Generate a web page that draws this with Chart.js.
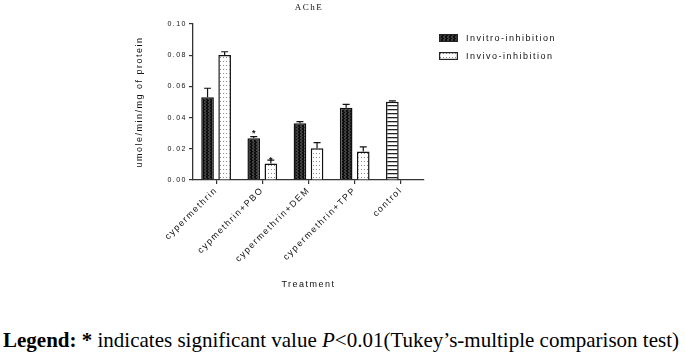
<!DOCTYPE html>
<html>
<head>
<meta charset="utf-8">
<script src="https://cdn.jsdelivr.net/npm/chart.js@4.4.1/dist/chart.umd.min.js"></script>
<style>
  html, body { margin: 0; padding: 0; background: #fff; }
  body { width: 685px; height: 352px; position: relative; overflow: hidden; }
  #chart { position: absolute; left: 0; top: 0; }
  #title { position: absolute; left: 259px; width: 100px; top: 2px; text-align: center;
           font: 9px "Liberation Serif", serif; letter-spacing: 1.5px; color: #111; }
  #legend { position: absolute; left: 439px; top: 29px; font: 9px "Liberation Sans", Arial, sans-serif;
            letter-spacing: 1.5px; color: #111; }
  #legend div { height: 18px; display: flex; align-items: center; }
  #legend canvas { margin-right: 8px; }
  #caption { position: absolute; left: 3px; top: 327.5px; white-space: nowrap; line-height: 1;
             font: 21px "Liberation Serif", "Times New Roman", serif; color: #000; }
</style>
</head>
<body>
<canvas id="chart" width="685" height="300"></canvas>
<div id="title">AChE</div>
<div id="legend"></div>
<div id="caption"><b>Legend:</b> <b>*</b> indicates significant value <i>P</i>&lt;0.01(Tukey’s-multiple comparison test)</div>
<script>
const categorias = ['cypermethrin', 'cypmethrin+PBO', 'cypermethrin+DEM', 'cypermethrin+TPP', 'control'];
const invitro = [0.053, 0.0267, 0.0363, 0.0463, 0.0502];
const invitroErro = [0.0588, 0.0278, 0.0374, 0.0485, 0.0507];
const invivo = [0.0801, 0.0105, 0.0203, 0.0182, null];
const invivoErro = [0.0822, 0.0128, 0.0239, 0.0212, null];
const invitroEstrela = [false, true, false, false, false];
const invivoEstrela = [false, true, false, false, false];
const yTicks = [0, 0.02, 0.04, 0.06, 0.08, 0.10];

function padrao(tipo) {
    const c = document.createElement('canvas');
    const g = c.getContext('2d');
    if (tipo === 'invitro') {
        c.width = 4; c.height = 3;
        g.fillStyle = '#0d0d0d';
        g.fillRect(0, 0, 4, 3);
        g.strokeStyle = '#808080';
        g.lineWidth = 0.9;
        g.beginPath();
        g.moveTo(0.5, 0); g.lineTo(2, 1.5); g.lineTo(0.5, 3);
        g.stroke();
    } else if (tipo === 'invivo') {
        c.width = 3; c.height = 4;
        g.fillStyle = '#fff';
        g.fillRect(0, 0, 3, 4);
        g.fillStyle = '#8a8a8a';
        g.fillRect(1, 1, 1, 1);
    } else {
        c.width = 4; c.height = 4;
        g.fillStyle = '#fff';
        g.fillRect(0, 0, 4, 4);
        g.fillStyle = '#222';
        g.fillRect(0, 1, 4, 1.3);
    }
    return g.createPattern(c, 'repeat');
}

const pInvitro = padrao('invitro');
const pInvivo = padrao('invivo');
const pControle = padrao('control');

const erros = [invitroErro, invivoErro];
const estrelas = [invitroEstrela, invivoEstrela];

const espacamento = {
    id: 'espacamento',
    beforeUpdate(chart) { chart.ctx.letterSpacing = '1.5px'; },
    beforeDraw(chart) { chart.ctx.letterSpacing = '1.5px'; }
};

const barrasErro = {
    id: 'barrasErro',
    afterDatasetsDraw(chart) {
        const ctx = chart.ctx;
        const y = chart.scales.y;
        ctx.save();
        ctx.strokeStyle = '#111';
        ctx.lineWidth = 1.2;
        chart.data.datasets.forEach((ds, d) => {
            const meta = chart.getDatasetMeta(d);
            meta.data.forEach((bar, i) => {
                const topo = erros[d][i];
                if (topo == null) return;
                const yt = y.getPixelForValue(topo);
                ctx.beginPath();
                ctx.moveTo(bar.x, bar.y);
                ctx.lineTo(bar.x, yt);
                ctx.moveTo(bar.x - 3.5, yt);
                ctx.lineTo(bar.x + 3.5, yt);
                ctx.stroke();
                if (estrelas[d][i]) {
                    ctx.fillStyle = '#111';
                    ctx.font = 'bold 9px "Liberation Sans", Arial';
                    ctx.textAlign = 'center';
                    ctx.textBaseline = 'middle';
                    ctx.letterSpacing = '0px';
                    ctx.fillText('*', bar.x, yt - (d === 0 ? 3 : 0));
                    ctx.letterSpacing = '1.5px';
                }
            });
        });
        ctx.restore();
    }
};

const fonte = { family: '"Liberation Sans", Arial, sans-serif', size: 9 };

new Chart(document.getElementById('chart'), {
    type: 'bar',
    data: {
        labels: categorias,
        datasets: [
            {
                label: 'Invitro-inhibition',
                data: invitro,
                backgroundColor: categorias.map((c, i) => i === categorias.length - 1 ? pControle : pInvitro),
                borderColor: '#111',
                borderWidth: 1.5,
                borderSkipped: 'bottom',
                categoryPercentage: 0.74,
                barPercentage: 0.74
            },
            {
                label: 'Invivo-inhibition',
                data: invivo,
                backgroundColor: pInvivo,
                borderColor: '#111',
                borderWidth: 1.5,
                borderSkipped: 'bottom',
                categoryPercentage: 0.74,
                barPercentage: 0.74
            }
        ]
    },
    options: {
        responsive: false,
        animation: false,
        events: [],
        layout: { padding: { left: 130, top: 24, right: 261, bottom: 6 } },
        plugins: {
            legend: { display: false },
            title: { display: false },
            tooltip: { enabled: false }
        },
        scales: {
            y: {
                min: 0,
                max: 0.1,
                afterBuildTicks: (s) => { s.ticks = yTicks.map(v => ({ value: v })); },
                afterFit: (s) => { s.width = 63; },
                ticks: {
                    color: '#111',
                    font: { family: fonte.family, size: 7 },
                    padding: 2,
                    callback: (v) => v.toFixed(2)
                },
                grid: { drawOnChartArea: false, drawTicks: true, tickLength: 4, color: '#333', lineWidth: 1.2 },
                border: { display: true, color: '#333', width: 1.3 },
                title: {
                    display: true,
                    text: 'umole/min/mg of protein',
                    color: '#111',
                    font: fonte,
                    padding: { top: 4, bottom: 0 }
                }
            },
            x: {
                afterFit: (s) => { s.height = 114; },
                ticks: {
                    color: '#111',
                    font: fonte,
                    maxRotation: 45,
                    minRotation: 45,
                    padding: 1,
                    autoSkip: false
                },
                grid: { drawOnChartArea: false, drawTicks: true, tickLength: 4, offset: false, color: '#333', lineWidth: 1.2 },
                border: { display: true, color: '#333', width: 1.3 },
                title: {
                    display: true,
                    text: 'Treatment',
                    color: '#111',
                    font: fonte,
                    padding: { top: 4, bottom: 4 }
                }
            }
        }
    },
    plugins: [espacamento, barrasErro]
});

// legenda em html com as mesmas texturas
const legenda = document.getElementById('legend');
[['Invitro-inhibition', pInvitro], ['Invivo-inhibition', pInvivo]].forEach(([txt, p]) => {
    const linha = document.createElement('div');
    const sw = document.createElement('canvas');
    sw.width = 19; sw.height = 8;
    const g = sw.getContext('2d');
    g.fillStyle = p;
    g.fillRect(0, 0, 19, 8);
    g.strokeStyle = '#222';
    g.lineWidth = 1.2;
    g.strokeRect(0.6, 0.6, 17.8, 6.8);
    linha.appendChild(sw);
    linha.appendChild(document.createTextNode(txt));
    legenda.appendChild(linha);
});
</script>
</body>
</html>
